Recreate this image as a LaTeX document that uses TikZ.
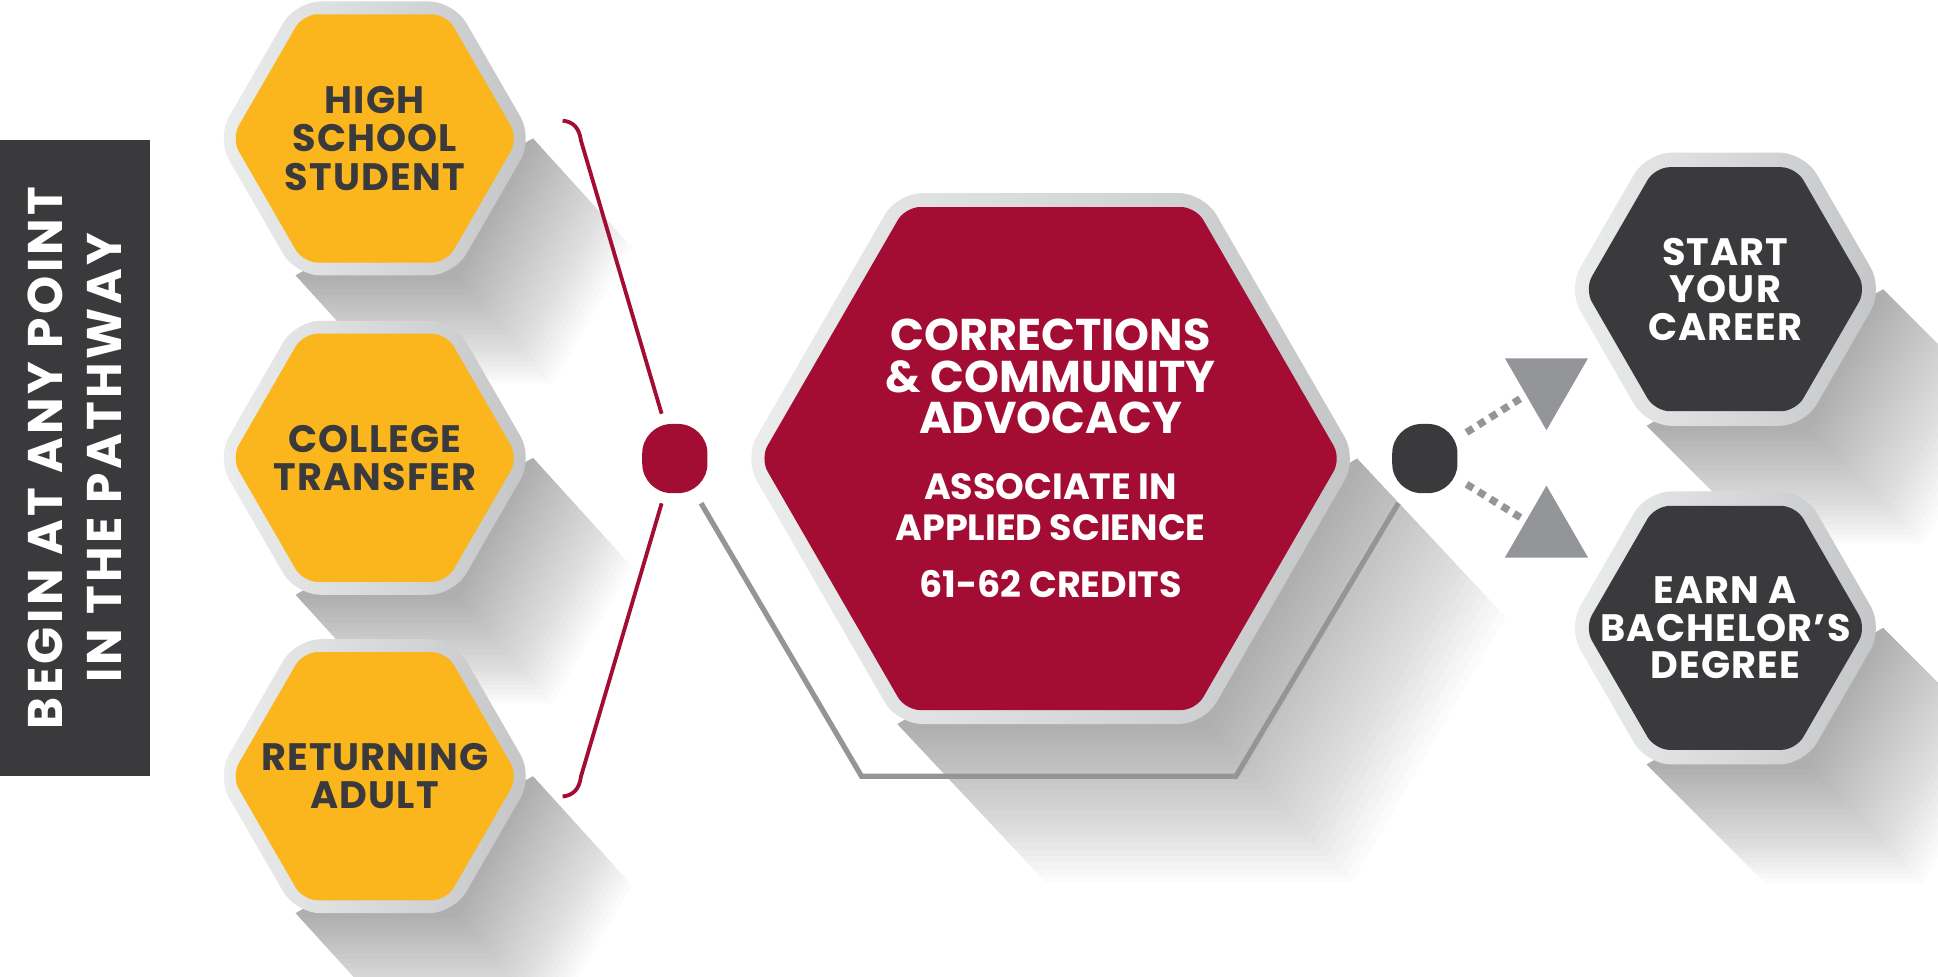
\documentclass[tikz,border=0pt]{standalone}
\usepackage{fontspec}
\setmainfont{Poppins}
\newfontfamily\wordfont[LetterSpace=3]{Poppins}
\newfontfamily\widefont[LetterSpace=7]{Poppins}
\usetikzlibrary{positioning, shapes.geometric}

\definecolor{hexyellow}{HTML}{FBB61E}
\definecolor{hexred}{HTML}{A30D33}
\definecolor{hexdark}{HTML}{3A3A3C}
\definecolor{linegray}{HTML}{939598}
\definecolor{rimlight}{HTML}{ECEDED}
\definecolor{rimdark}{HTML}{C4C5C7}

% long fading shadow: centre, outer radius, dx, dy
\newcommand{\castshadow}[4]{%
  \begin{scope}[shift={(#1)}]
    \foreach \k in {1,...,24}{
      \fill[black, opacity=0.017]
        (#2, 0) -- (#2+\k*#3/24, -\k*#4/24)
        -- (0.5*#2+\k*#3/24, -0.866*#2-\k*#4/24) -- (-0.5*#2+\k*#3/24, -0.866*#2-\k*#4/24)
        -- (-0.5*#2, -0.866*#2) -- cycle;
    }
  \end{scope}}

\begin{document}
\begin{tikzpicture}[>=stealth,
    rim/.style={regular polygon, regular polygon sides=6, inner sep=0pt, rounded corners=2.5mm, left color=rimlight, right color=rimdark},
    hexcell/.style={regular polygon, regular polygon sides=6, inner sep=0pt, rounded corners=1.5mm},
    startcell/.style={hexcell, fill=hexyellow, minimum size=2.9cm},
    endcell/.style={hexcell, fill=hexdark, minimum size=2.85cm},
    starttext/.style={align=center, text=hexdark, font=\wordfont\bfseries\fontsize{11}{11}\selectfont},
    endtext/.style={align=center, text=white, font=\wordfont\bfseries\fontsize{11}{10.8}\selectfont},
    hub/.style={rectangle, rounded corners=3mm, minimum width=6.6mm, minimum height=7mm, inner sep=0pt},
    pointer/.style={regular polygon, regular polygon sides=3, inner sep=0pt, minimum size=9.7mm, fill=linegray},
    bracket/.style={draw=hexred, line width=1.1pt},
    track/.style={draw=linegray, line width=1.5pt},
    hop/.style={draw=linegray, line width=2.1pt, dash pattern=on 2.2pt off 1.8pt}
  ]
    \useasboundingbox (0, 0) rectangle (19.6, -9.875);

    % shadows
    \castshadow{3.79, -1.40}{1.6}{1.0}{1.1}
    \castshadow{3.79, -4.63}{1.6}{1.0}{1.1}
    \castshadow{3.79, -7.85}{1.6}{1.0}{1.1}
    \castshadow{10.625, -4.6375}{3.1}{1.5}{1.6}
    \castshadow{17.45, -2.925}{1.595}{1.2}{1.2}
    \castshadow{17.45, -6.35}{1.595}{1.2}{1.2}

    % banner
    \node[fill=hexdark, rotate=90, minimum width=6.4375cm, minimum height=1.5125cm, inner sep=0pt, text=white, align=center, font=\widefont\bfseries\fontsize{14}{16.8}\selectfont] (banner) at (0.756, -4.631) {BEGIN AT ANY POINT\\IN THE PATHWAY};

    % starting points
    \node[rim, minimum size=3.2cm] (rim1) at (3.79, -1.40) {};
    \node[startcell] (start1) at (3.79, -1.40) {};
    \node[starttext] (caption1) at (start1) {HIGH\\SCHOOL\\STUDENT};
    \node[rim, minimum size=3.2cm] (rim2) at (3.79, -4.63) {};
    \node[startcell] (start2) at (3.79, -4.63) {};
    \node[starttext] (caption2) at (start2) {COLLEGE\\TRANSFER};
    \node[rim, minimum size=3.2cm] (rim3) at (3.79, -7.85) {};
    \node[startcell] (start3) at (3.79, -7.85) {};
    \node[starttext] (caption3) at (start3) {RETURNING\\ADULT};

    % programme
    \node[rim, minimum size=6.2cm] (rim4) at (10.625, -4.6375) {};
    \node[hexcell, fill=hexred, minimum size=5.875cm] (program) at (10.625, -4.6375) {};
    \node[align=center, text=white, font=\bfseries] (caption4) at (program)
      {\fontsize{12.8}{12}\selectfont CORRECTIONS\\ \fontsize{12.8}{12}\selectfont \& COMMUNITY\\ \fontsize{12.8}{12}\selectfont ADVOCACY\\[6.8pt]
       \fontsize{10.5}{12}\selectfont ASSOCIATE IN\\ \fontsize{10.5}{12}\selectfont APPLIED SCIENCE\\[4.4pt]
       \fontsize{10.5}{12}\selectfont 61-62 CREDITS};

    % outcomes
    \node[rim, minimum size=3.19cm] (rim5) at (17.45, -2.925) {};
    \node[endcell] (end1) at (17.45, -2.925) {};
    \node[endtext] (caption5) at (end1) {START\\YOUR\\CAREER};
    \node[rim, minimum size=3.19cm] (rim6) at (17.45, -6.35) {};
    \node[endcell] (end2) at (17.45, -6.35) {};
    \node[endtext] (caption6) at (end2) {EARN A\\BACHELOR’S\\DEGREE};

    % joints
    \node[hub, fill=hexred] (hub1) at (6.825, -4.6375) {};
    \node[hub, fill=hexdark] (hub2) at (14.41, -4.6375) {};

    \coordinate (hook1) at (5.69, -1.22);
    \coordinate (bend1) at (5.875, -1.42);
    \coordinate (bend2) at (5.875, -7.855);
    \coordinate (hook2) at (5.69, -8.055);
    \coordinate (base1) at (8.7125, -7.85);
    \coordinate (base2) at (12.5, -7.85);

    \draw[bracket, shorten >=1mm] (hook1) .. controls (5.80, -1.23) and (5.86, -1.30) .. (bend1) -- (hub1);
    \draw[bracket, shorten >=1mm] (hook2) .. controls (5.80, -8.045) and (5.86, -7.975) .. (bend2) -- (hub1);
    \draw[track, shorten <=1.1mm, shorten >=1.1mm] (hub1) -- (base1) -- (base2) -- (hub2);

    \node[pointer, shape border rotate=180] (tri1) at (15.64, -3.866) {};
    \node[pointer] (tri2) at (15.64, -5.396) {};
    \draw[hop, shorten <=1mm, shorten >=0.5mm] (hub2) -- (tri1);
    \draw[hop, shorten <=1mm, shorten >=0.5mm] (hub2) -- (tri2);
\end{tikzpicture}
\end{document}
